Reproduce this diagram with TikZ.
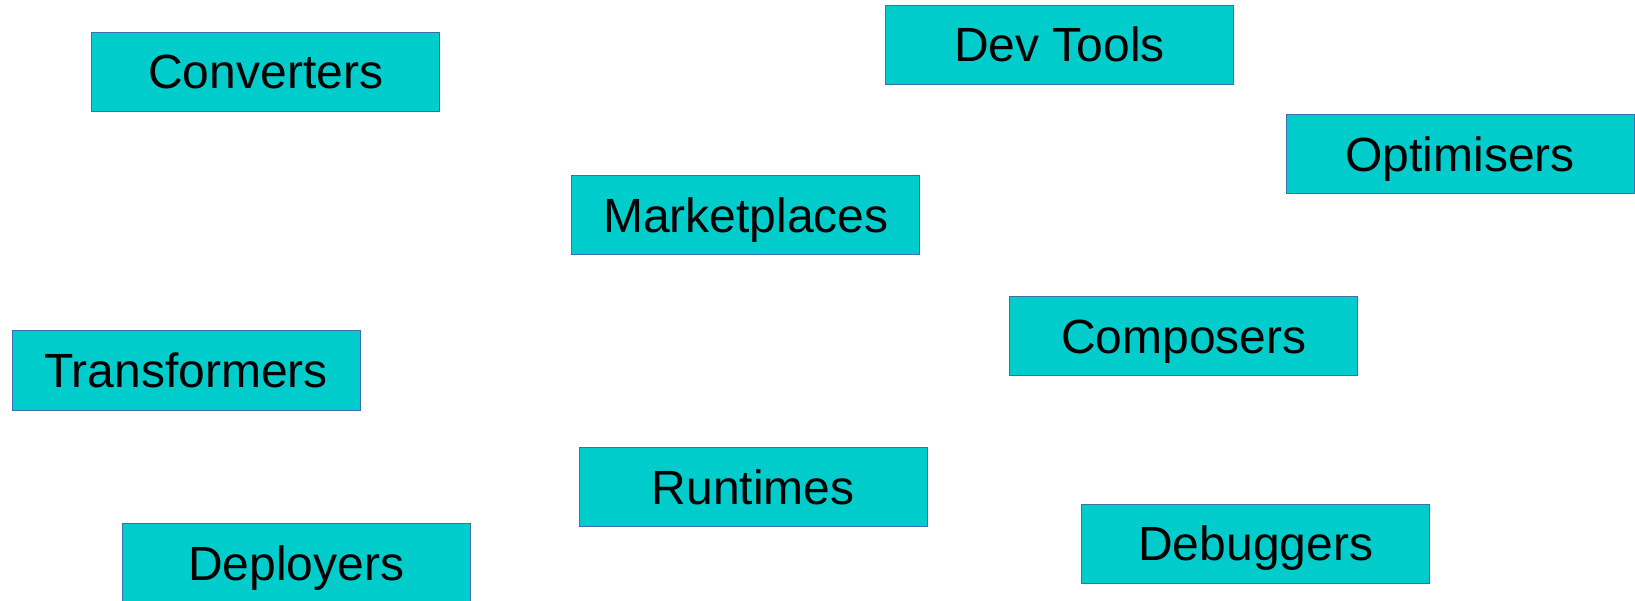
\documentclass[tikz,border=0pt]{standalone}
\usepackage{fontspec}
\setmainfont{Liberation Sans}
\definecolor{boxfill}{HTML}{00CCCC}
\definecolor{boxline}{HTML}{3C6EB4}
\begin{document}
\begin{tikzpicture}[x=1pt,y=-1pt,
  cat/.style={draw=boxline, line width=0.8pt, fill=boxfill, anchor=north west,
    minimum width=348pt, minimum height=79pt, inner sep=0pt,
    text height=34pt, text depth=0pt, font=\fontsize{48}{50}\selectfont}]
\useasboundingbox (0,0) rectangle (1635,601);
\node[cat] (conv) at (91.3,31.7) {Converters};
\node[cat] (dev) at (885,5) {Dev Tools};
\node[cat] (opt) at (1285.7,114.3) {Optimisers};
\node[cat] (mkt) at (571.4,175.2) {Marketplaces};
\node[cat] (comp) at (1009.4,296.1) {Composers};
\node[cat] (trans) at (11.5,330.5) {Transformers};
\node[cat] (run) at (578.7,447.3) {Runtimes};
\node[cat] (dbg) at (1081.3,503.6) {Debuggers};
\node[cat] (dep) at (121.7,523.3) {Deployers};
\end{tikzpicture}
\end{document}
